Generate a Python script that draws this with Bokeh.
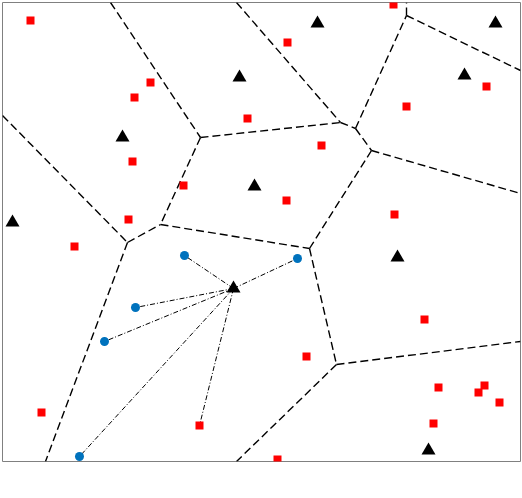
from bokeh.plotting import figure
from bokeh.models import Range1d
from bokeh.embed import file_html
from bokeh.resources import INLINE

# Data in frame coordinates (x to the right, y downward)
tri_x = [317, 495, 239, 464, 122, 254, 12, 397, 428, 233]
tri_y = [23, 23, 77, 75, 137, 186, 222, 257, 450, 288]

red_x = [30, 150, 134, 132, 183, 128, 74, 247, 393, 287, 406, 486, 321, 286, 394,
         41, 199, 424, 306, 438, 484, 478, 499, 433, 277]
red_y = [20, 82, 97, 161, 185, 219, 246, 118, 4, 42, 106, 86, 145, 200, 214,
         412, 425, 319, 356, 387, 385, 392, 402, 423, 459]

blue_x = [184, 135, 104, 79, 297]
blue_y = [255, 307, 341, 456, 258]

hub_x, hub_y = 233, 288
link_x = [184, 135, 104, 79, 297, 199]
link_y = [255, 307, 341, 456, 258, 425]

# Voronoi edges (x0, y0, x1, y1)
edge_x0 = [110, 200, 200, 2, 127, 160, 127, 236, 340, 355, 355, 371, 371, 406, 406, 309, 336, 336]
edge_y0 = [2, 137, 137, 115, 242, 224, 242, 2, 122, 128, 128, 150, 150, 15, 15, 248, 364, 364]
edge_x1 = [200, 160, 340, 127, 160, 309, 45, 340, 355, 406, 371, 520, 309, 406, 520, 336, 520, 236]
edge_y1 = [137, 224, 122, 242, 224, 248, 461, 122, 128, 15, 150, 193, 248, 2, 70, 364, 341, 461]

p = figure(frame_width=518, frame_height=459, output_backend="svg", toolbar_location=None,
           x_range=Range1d(2, 520), y_range=Range1d(461, 2), min_border=2,
           x_axis_type=None, y_axis_type=None)
p.grid.visible = False
p.outline_line_color = "#808080"
p.outline_line_width = 1
p.background_fill_color = "white"
p.border_fill_color = "white"

p.segment(edge_x0, edge_y0, edge_x1, edge_y1, line_color="black", line_width=1.4, line_dash="8 4")
p.segment([hub_x] * len(link_x), [hub_y] * len(link_y), link_x, link_y,
          line_color="black", line_width=1.0, line_dash="5 2 1 2")

p.scatter(red_x, red_y, marker="square", size=8, fill_color="#ff0000", line_color=None)
p.scatter(blue_x, blue_y, marker="circle", size=9, fill_color="#0072bd", line_color=None)
p.scatter(tri_x, tri_y, marker="triangle", size=14, fill_color="black", line_color=None)

open("out.html", "w").write(file_html(p, INLINE))
